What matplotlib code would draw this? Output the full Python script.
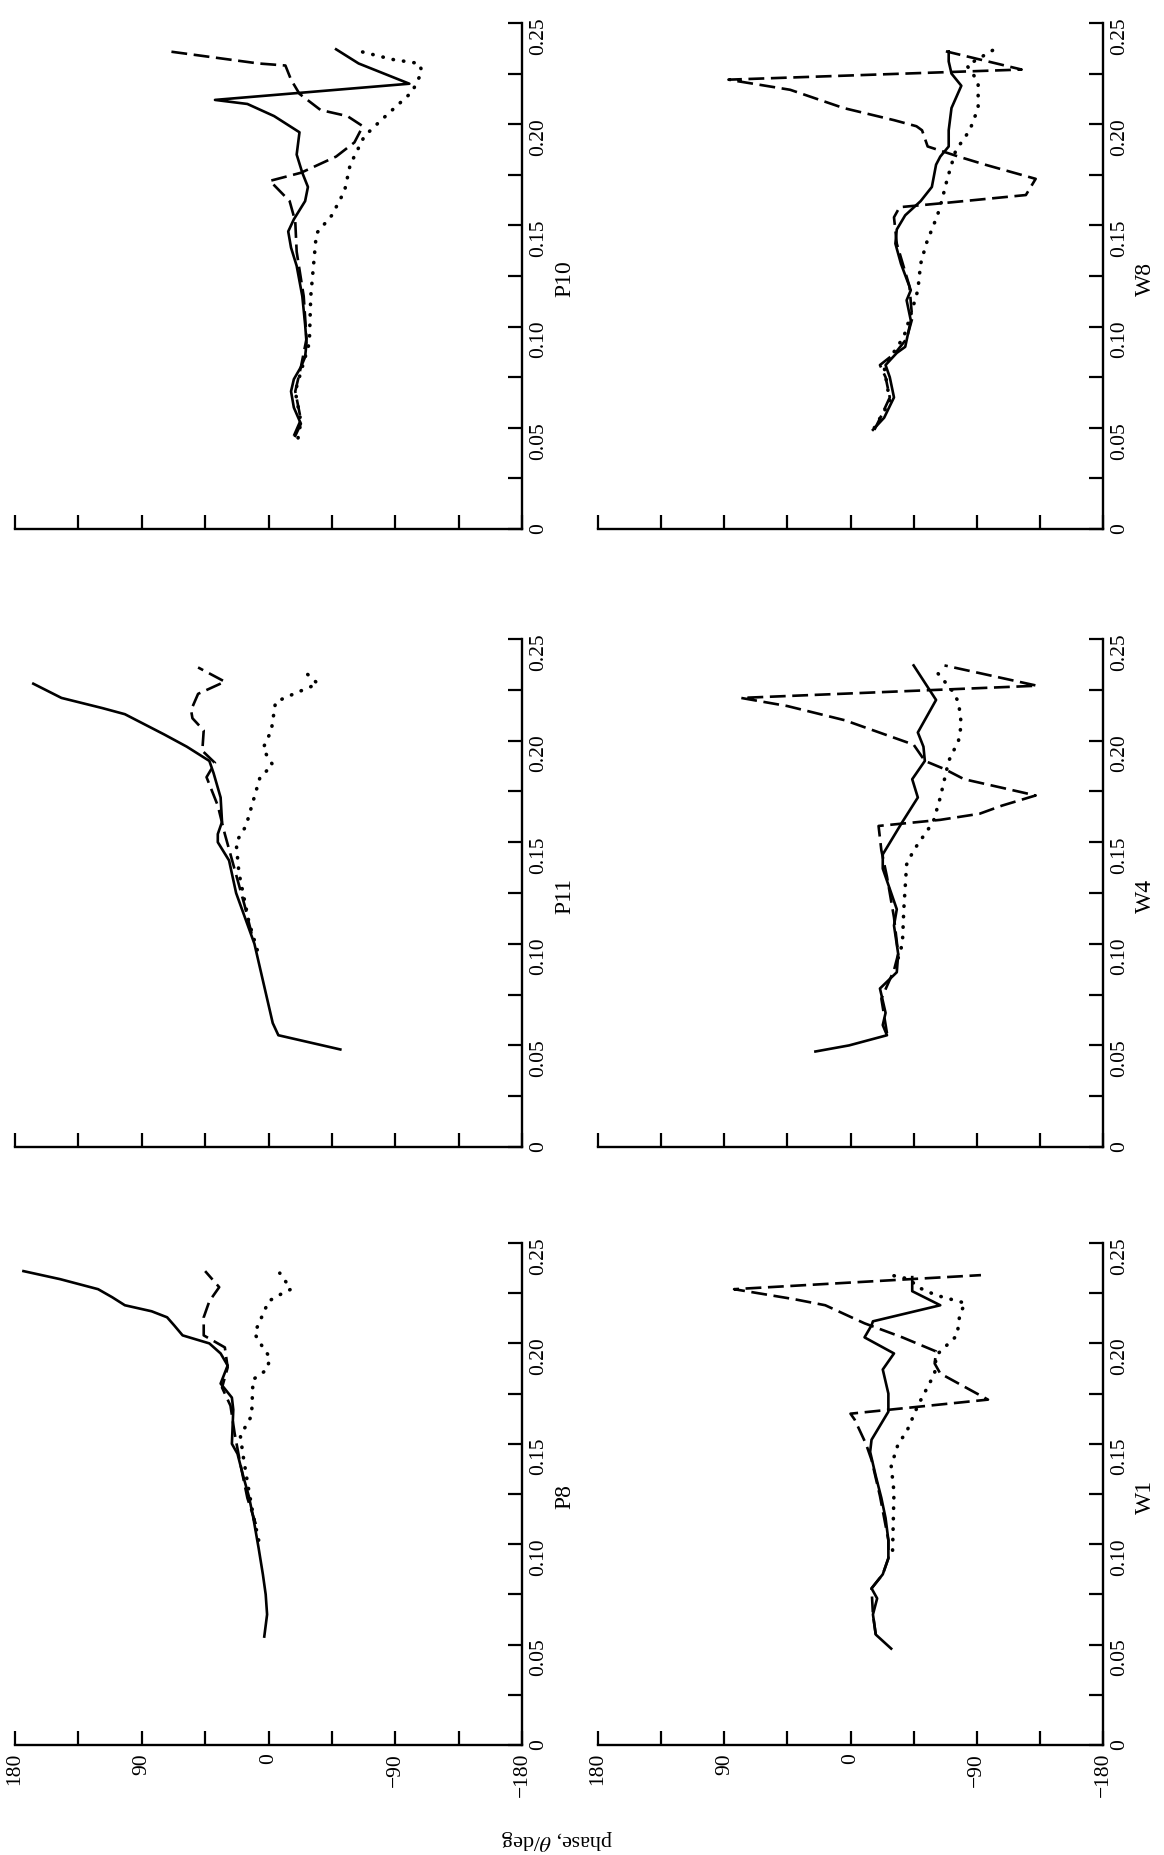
import matplotlib
matplotlib.use('Agg')
import matplotlib.pyplot as plt
from matplotlib.transforms import blended_transform_factory

plt.rcParams['font.family'] = ['Liberation Serif', 'DejaVu Serif']
plt.rcParams['mathtext.fontset'] = 'stix'

# the page is printed turned on its side: phase runs across, frequency runs up
panel_grid = [['P10', 'W8'], ['P11', 'W4'], ['P8', 'W1']]

phase_ticks = [-180, -135, -90, -45, 0, 45, 90, 135, 180]
phase_labels = {180: '180', 90: '90', 0: '0', -90: '\u221290', -180: '\u2212180'}
freq_ticks = [0, 0.025, 0.05, 0.075, 0.1, 0.125, 0.15, 0.175, 0.2, 0.225, 0.25]
freq_labels = {0: '0', 0.05: '0.05', 0.1: '0.10', 0.15: '0.15', 0.2: '0.20', 0.25: '0.25'}

# ---- P10 ----
P10_solid_f = [0.046, 0.052, 0.060, 0.068, 0.074, 0.080, 0.085, 0.092, 0.101, 0.115, 0.130, 0.139, 0.147,
               0.153, 0.162, 0.169, 0.176, 0.185, 0.196, 0.204, 0.210, 0.212, 0.220, 0.230, 0.237]
P10_solid_ph = [-19, -23, -18, -16, -18, -23, -26, -27, -26, -24, -20, -16, -14,
                -18, -26, -28, -24, -20, -22, -4, 15, 38, -100, -64, -48]
P10_dash_f = [0.046, 0.054, 0.068, 0.080, 0.094, 0.115, 0.137, 0.152, 0.162, 0.172, 0.176, 0.184, 0.191,
              0.199, 0.204, 0.207, 0.215, 0.222, 0.229, 0.230, 0.236]
P10_dash_ph = [-18, -23, -19, -23, -27, -25, -20, -19, -15, -1, -23, -48, -61,
               -67, -56, -37, -22, -16, -12, 7, 71]
P10_dot_f = [0.045, 0.053, 0.068, 0.092, 0.115, 0.146, 0.155, 0.167, 0.180, 0.194, 0.202, 0.209, 0.216,
             0.226, 0.230, 0.232, 0.236]
P10_dot_ph = [-21, -23, -19, -29, -30, -34, -45, -54, -58, -68, -80, -91, -102,
              -109, -107, -88, -65]

# ---- P11 ----
P11_solid_f = [0.048, 0.055, 0.061, 0.082, 0.100, 0.125, 0.141, 0.150, 0.154, 0.160, 0.172, 0.184, 0.190,
               0.197, 0.203, 0.213, 0.216, 0.221, 0.228]
P11_solid_ph = [-51, -7, -3, 4, 10, 23, 28, 36, 36, 33, 34, 39, 42, 58, 74, 102, 118, 147, 167]
P11_dash_f = [0.105, 0.119, 0.139, 0.154, 0.168, 0.182, 0.189, 0.195, 0.205, 0.211, 0.215, 0.223, 0.229, 0.236]
P11_dash_ph = [12, 17, 25, 31, 36, 44, 38, 47, 46, 54, 55, 50, 31, 50]
P11_dot_f = [0.097, 0.111, 0.135, 0.150, 0.158, 0.182, 0.188, 0.196, 0.205, 0.219, 0.223, 0.228, 0.235]
P11_dot_ph = [8, 14, 21, 23, 16, 6, -3, 4, -2, -5, -18, -35, -24]

# ---- P8 ----
P8_solid_f = [0.054, 0.065, 0.075, 0.085, 0.098, 0.114, 0.124, 0.134, 0.145, 0.150, 0.167, 0.173, 0.180,
              0.189, 0.195, 0.200, 0.204, 0.209, 0.213, 0.216, 0.219, 0.223, 0.227, 0.232, 0.236]
P8_solid_ph = [3, 1, 2, 4, 7, 11, 14, 18, 22, 26, 25, 26, 34, 29, 34, 42, 61, 67, 72, 83, 102, 111, 121, 148, 174]
P8_dash_f = [0.110, 0.123, 0.140, 0.155, 0.169, 0.178, 0.188, 0.198, 0.204, 0.213, 0.221, 0.228, 0.236]
P8_dash_ph = [9, 15, 20, 24, 27, 33, 29, 31, 46, 46, 42, 35, 45]
P8_dot_f = [0.102, 0.115, 0.131, 0.144, 0.154, 0.164, 0.182, 0.187, 0.193, 0.198, 0.205, 0.216, 0.221,
            0.225, 0.227, 0.235]
P8_dot_ph = [7, 11, 15, 18, 20, 12, 11, 1, -1, 4, 10, 3, 0, -10, -16, -8]

# ---- W8 ----
W8_solid_f = [0.049, 0.055, 0.065, 0.075, 0.081, 0.087, 0.090, 0.103, 0.113, 0.118, 0.131, 0.141, 0.148,
              0.155, 0.162, 0.169, 0.180, 0.184, 0.189, 0.197, 0.208, 0.219, 0.225, 0.231, 0.236]
W8_solid_ph = [-16, -24, -31, -28, -25, -33, -39, -43, -40, -43, -36, -32, -33,
               -39, -50, -58, -61, -64, -70, -70, -72, -79, -72, -70, -70]
W8_dash_f = [0.049, 0.056, 0.065, 0.075, 0.081, 0.087, 0.094, 0.104, 0.120, 0.141, 0.154, 0.159, 0.161,
             0.165, 0.173, 0.180, 0.184, 0.189, 0.197, 0.199, 0.202, 0.208, 0.217, 0.222, 0.227, 0.236]
W8_dash_ph = [-17, -22, -28, -25, -21, -32, -40, -44, -42, -33, -31, -35, -66,
              -125, -132, -96, -77, -55, -51, -47, -31, 5, 43, 87, -122, -68]
W8_dot_f = [0.050, 0.063, 0.080, 0.095, 0.106, 0.118, 0.131, 0.141, 0.155, 0.162, 0.173, 0.187, 0.197,
            0.208, 0.220, 0.224, 0.229, 0.238]
W8_dot_ph = [-17, -28, -24, -38, -43, -48, -50, -54, -62, -65, -69, -75, -85, -91, -91, -88, -83, -105]

# ---- W4 ----
W4_solid_f = [0.047, 0.050, 0.055, 0.060, 0.066, 0.078, 0.086, 0.095, 0.109, 0.117, 0.125, 0.137, 0.144,
              0.160, 0.172, 0.181, 0.190, 0.197, 0.204, 0.220, 0.237]
W4_solid_ph = [25, 1, -26, -23, -25, -21, -33, -34, -31, -33, -29, -23, -23, -37, -48, -44, -53, -52, -48, -61, -45]
W4_dash_f = [0.056, 0.073, 0.087, 0.095, 0.113, 0.133, 0.146, 0.158, 0.161, 0.164, 0.168, 0.173, 0.176,
             0.181, 0.186, 0.190, 0.198, 0.210, 0.217, 0.221, 0.227, 0.232, 0.237]
W4_dash_ph = [-26, -22, -31, -34, -31, -26, -22, -20, -64, -92, -108, -132, -113,
              -81, -67, -53, -45, 4, 45, 78, -133, -100, -67]
W4_dot_f = [0.093, 0.100, 0.117, 0.139, 0.146, 0.160, 0.172, 0.190, 0.200, 0.208, 0.219, 0.225, 0.235]
W4_dot_ph = [-34, -37, -38, -40, -45, -59, -64, -70, -77, -79, -77, -72, -60]

# ---- W1 ----
W1_solid_f = [0.048, 0.055, 0.065, 0.073, 0.078, 0.085, 0.093, 0.102, 0.113, 0.123, 0.134, 0.146, 0.152,
              0.166, 0.175, 0.187, 0.195, 0.203, 0.209, 0.211, 0.219, 0.226, 0.233]
W1_solid_ph = [-29, -18, -16, -19, -15, -23, -27, -27, -25, -22, -18, -14, -15,
               -27, -27, -23, -31, -10, -15, -16, -64, -44, -44]
W1_dash_f = [0.055, 0.065, 0.078, 0.085, 0.093, 0.102, 0.124, 0.142, 0.150, 0.162, 0.165, 0.172, 0.185,
             0.190, 0.196, 0.203, 0.210, 0.219, 0.222, 0.227, 0.234]
W1_dash_ph = [-18, -16, -15, -23, -27, -27, -21, -15, -11, -3, 0, -98, -64,
              -60, -61, -37, -10, 18, 40, 83, -93]
W1_dot_f = [0.097, 0.126, 0.139, 0.150, 0.156, 0.169, 0.185, 0.194, 0.204, 0.215, 0.220, 0.224, 0.228,
            0.232, 0.234]
W1_dot_ph = [-30, -31, -29, -34, -40, -48, -60, -61, -76, -78, -82, -61, -48, -42, -29]

curves = {
    'P10': [(P10_solid_f, P10_solid_ph), (P10_dash_f, P10_dash_ph), (P10_dot_f, P10_dot_ph)],
    'P11': [(P11_solid_f, P11_solid_ph), (P11_dash_f, P11_dash_ph), (P11_dot_f, P11_dot_ph)],
    'P8': [(P8_solid_f, P8_solid_ph), (P8_dash_f, P8_dash_ph), (P8_dot_f, P8_dot_ph)],
    'W8': [(W8_solid_f, W8_solid_ph), (W8_dash_f, W8_dash_ph), (W8_dot_f, W8_dot_ph)],
    'W4': [(W4_solid_f, W4_solid_ph), (W4_dash_f, W4_dash_ph), (W4_dot_f, W4_dot_ph)],
    'W1': [(W1_solid_f, W1_solid_ph), (W1_dash_f, W1_dash_ph), (W1_dot_f, W1_dot_ph)],
}

W, H = 1164, 1856
fig = plt.figure(figsize=(W / 100, H / 100), dpi=100)

col_px = [(15, 522), (598, 1103)]
row_px = [(24, 530), (640, 1148), (1244, 1746)]

styles = [dict(linestyle='-', lw=1.9),
          dict(linestyle=(0, (6, 2.5)), lw=1.9),
          dict(linestyle=(0, (0.1, 2.8)), lw=2.6, dash_capstyle='round')]

for r, row in enumerate(panel_grid):
    for c, name in enumerate(row):
        x0, x1 = col_px[c]
        y0, y1 = row_px[r]
        ax = fig.add_axes([x0 / W, 1 - y1 / H, (x1 - x0) / W, (y1 - y0) / H])
        for (f, ph), st in zip(curves[name], styles):
            ax.plot(ph, f, color='black', **st)
        ax.set_xlim(180, -180)
        ax.set_ylim(0, 0.25)
        for s in ['top', 'left']:
            ax.spines[s].set_visible(False)
        for s in ['bottom', 'right']:
            ax.spines[s].set_linewidth(1.7)
        ax.yaxis.tick_right()
        ax.set_xticks(phase_ticks)
        ax.set_yticks(freq_ticks)
        if r == 2:
            ax.set_xticklabels([phase_labels.get(t, '') for t in phase_ticks])
        else:
            ax.set_xticklabels([])
        ax.set_yticklabels([freq_labels.get(round(t, 3), '') for t in freq_ticks])
        ax.tick_params(direction='in', length=10, width=1.6, labelsize=15.5, pad=5)
        ax.tick_params(axis='both', labelrotation=90)
        tr = blended_transform_factory(ax.transAxes, ax.transData)
        ax.text(1.085, 0.124, name, transform=tr, rotation=90, fontsize=17,
                ha='center', va='center')

fig.text(557 / W, 1 - 1840 / H, r'phase, $\theta$/deg', rotation=180, fontsize=16,
         ha='center', va='center')

fig.savefig('out.png', dpi=100, facecolor='white')
